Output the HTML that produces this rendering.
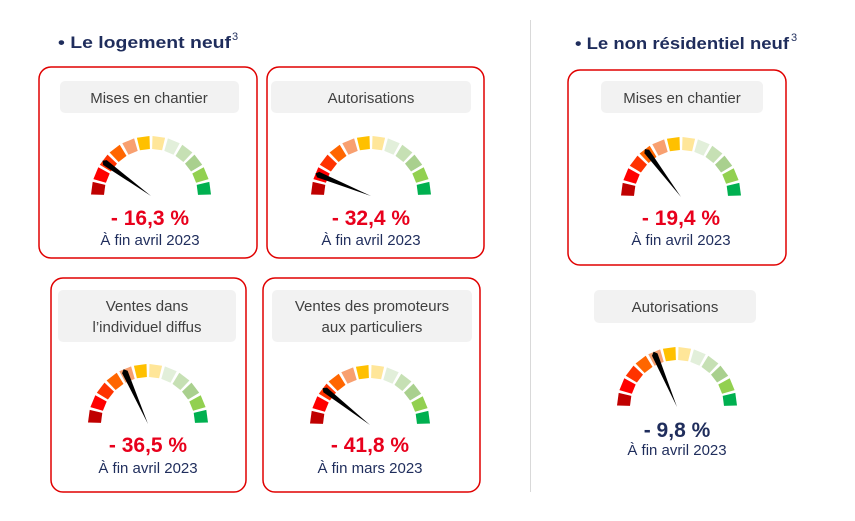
<!DOCTYPE html>
<html><head><meta charset="utf-8"><style>
html,body{margin:0;padding:0;background:#fff;width:855px;height:521px;overflow:hidden}
text{font-family:"Liberation Sans",sans-serif}
</style></head><body>
<svg id="s" width="855" height="521" viewBox="0 0 855 521" xmlns="http://www.w3.org/2000/svg">
<line x1="530.5" y1="20" x2="530.5" y2="492" stroke="#d9d9d9" stroke-width="1"/>
<text x="58" y="48" font-size="17" font-weight="bold" fill="#1f2d5c" textLength="173" lengthAdjust="spacingAndGlyphs">• Le logement neuf</text>
<text x="232" y="40" font-size="11" fill="#1f2d5c">3</text>
<text x="575" y="49" font-size="17" font-weight="bold" fill="#1f2d5c" textLength="214" lengthAdjust="spacingAndGlyphs">• Le non résidentiel neuf</text>
<text x="791" y="41" font-size="11" fill="#1f2d5c">3</text>
<g fill="none" stroke="#e00000" stroke-width="1.5">
<rect x="39" y="67" width="218" height="191" rx="12"/>
<rect x="267" y="67" width="217" height="191" rx="12"/>
<rect x="568" y="70" width="218" height="195" rx="12"/>
<rect x="51" y="278" width="195" height="214" rx="12"/>
<rect x="263" y="278" width="217" height="214" rx="12"/>
</g>
<g fill="#f2f2f2">
<rect x="60" y="81" width="179" height="32" rx="5"/>
<rect x="271" y="81" width="200" height="32" rx="5"/>
<rect x="601" y="81" width="162" height="32" rx="5"/>
<rect x="58" y="290" width="178" height="52" rx="5"/>
<rect x="272" y="290" width="200" height="52" rx="5"/>
<rect x="594" y="290" width="162" height="33" rx="5"/>
</g>
<g font-size="15" fill="#404040" text-anchor="middle">
<text x="149" y="103">Mises en chantier</text>
<text x="371" y="103">Autorisations</text>
<text x="682" y="103">Mises en chantier</text>
<text x="147" y="311">Ventes dans</text>
<text x="147" y="332">l’individuel diffus</text>
<text x="372" y="311">Ventes des promoteurs</text>
<text x="372" y="332">aux particuliers</text>
<text x="675" y="312">Autorisations</text>
</g>
<g font-size="21" font-weight="bold" text-anchor="middle">
<text x="150" y="225" fill="#e8001c">- 16,3 %</text>
<text x="371" y="225" fill="#e8001c">- 32,4 %</text>
<text x="681" y="225" fill="#e8001c">- 19,4 %</text>
<text x="148" y="452" fill="#e8001c">- 36,5 %</text>
<text x="370" y="452" fill="#e8001c">- 41,8 %</text>
<text x="677" y="437" fill="#1f2d5c">- 9,8 %</text>
</g>
<g font-size="15" fill="#1f2d5c" text-anchor="middle">
<text x="150" y="245">À fin avril 2023</text>
<text x="371" y="245">À fin avril 2023</text>
<text x="681" y="245">À fin avril 2023</text>
<text x="148" y="473">À fin avril 2023</text>
<text x="370" y="473">À fin mars 2023</text>
<text x="677" y="455">À fin avril 2023</text>
</g>
<g id="g"></g>
</svg>
<script>
var cols=["#c00000","#ff0000","#ff3300","#ff6600","#f8a070","#ffc000","#ffe699","#e2efda","#c6e0b4","#a9d08e","#92d050","#00b050"];
var gauges=[[151,196,144],[371,196,158],[681,197,127],[148,424,114],[370,425,142],[677,407,113]];
var g=document.getElementById('g'),h='';
function p(cx,cy,r,a){a=a*Math.PI/180;return (cx+r*Math.cos(a)).toFixed(1)+','+(cy-r*Math.sin(a)).toFixed(1);}
gauges.forEach(function(G){
 var cx=G[0],cy=G[1],R=60,r=47;
 for(var i=0;i<12;i++){
  var a0=180-i*15-1.4,a1=180-(i+1)*15+1.4;
  h+='<polygon fill="'+cols[i]+'" points="'+p(cx,cy,R,a0)+' '+p(cx,cy,R,a1)+' '+p(cx,cy,r,a1)+' '+p(cx,cy,r,a0)+'"/>';
 }
 var a=G[2];
 h+='<polygon fill="#000" points="'+p(cx,cy,0,0)+' '+p(cx,cy,57,a+3)+' '+p(cx,cy,60,a)+' '+p(cx,cy,57,a-3)+'"/>';
});
g.innerHTML=h;
</script>
</body></html>
